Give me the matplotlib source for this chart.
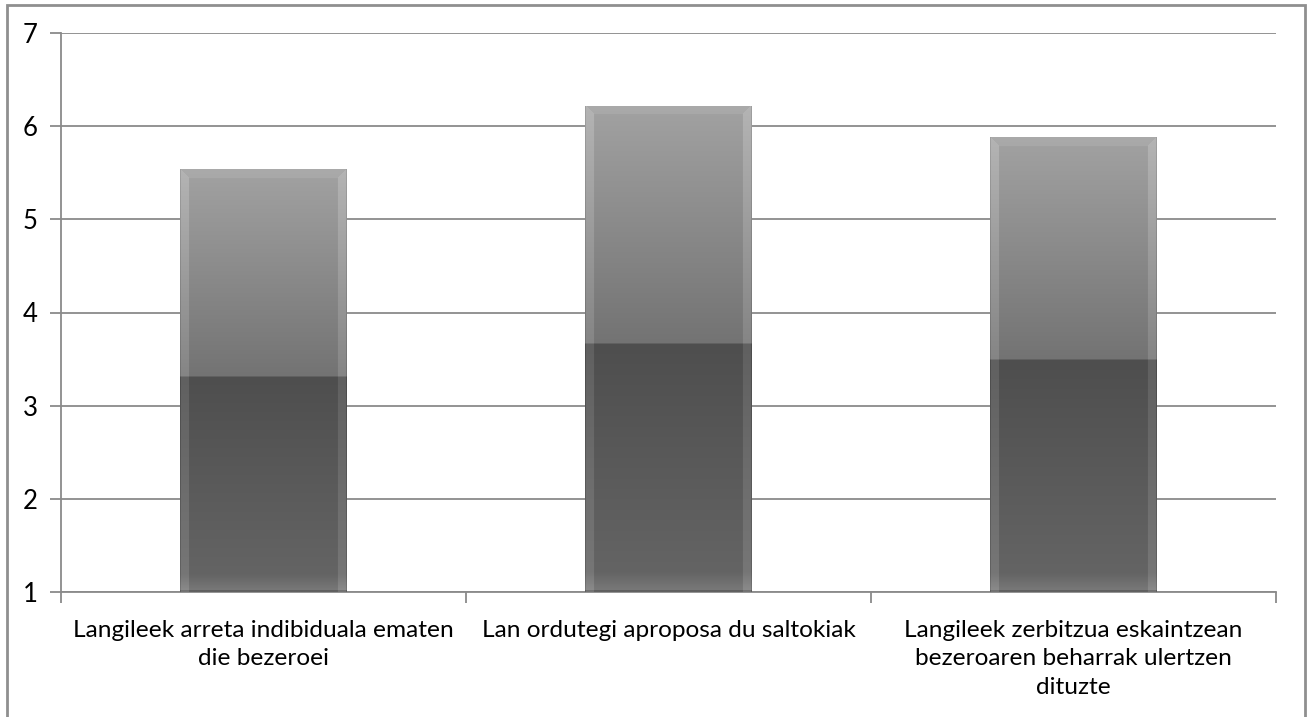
import numpy as np
import matplotlib.pyplot as plt
from matplotlib.patches import Rectangle

categories = [
    "Langileek arreta indibiduala ematen\ndie bezeroei",
    "Lan ordutegi aproposa du saltokiak",
    "Langileek zerbitzua eskaintzean\nbezeroaren beharrak ulertzen\ndituzte",
]
scores = [5.54, 6.22, 5.88]
y_ticks = [1, 2, 3, 4, 5, 6, 7]

W, H = 1313, 717
plt.rcParams["font.family"] = ["Lato", "DejaVu Sans"]

fig = plt.figure(figsize=(W / 100, H / 100), dpi=100)
fig.patch.set_facecolor("white")

# outer chart frame (bottom edge runs off the canvas)
frame = Rectangle((7 / W, -0.05), (1305 - 7) / W, (717 - 5) / H + 0.05,
                  transform=fig.transFigure, fill=False,
                  edgecolor="#8f8f8f", linewidth=2.0)
fig.patches.append(frame)

ax_l, ax_r, ax_t, ax_b = 61, 1276, 33, 592
ax = fig.add_axes([ax_l / W, (H - ax_b) / H, (ax_r - ax_l) / W, (ax_b - ax_t) / H])

grid_c = "#8a8a8a"
ax.set_ylim(1, 7)
ax.set_xlim(-0.5, len(categories) - 0.5)
ax.set_yticks(y_ticks)
ax.yaxis.grid(True, color=grid_c, linewidth=1.3)
ax.set_axisbelow(True)
for side in ("top", "right"):
    ax.spines[side].set_visible(False)
for side in ("left", "bottom"):
    ax.spines[side].set_color(grid_c)
    ax.spines[side].set_linewidth(1.3)
ax.tick_params(axis="y", length=8, width=1.3, color=grid_c, labelsize=18.5, pad=9)
ax.set_xticks(np.arange(len(categories)))
ax.set_xticklabels(categories, fontsize=17.6, linespacing=1.45)
ax.tick_params(axis="x", length=0, pad=20)
ax.set_xticks(np.arange(len(categories) + 1) - 0.5, minor=True)
ax.tick_params(axis="x", which="minor", length=8, width=1.3, color=grid_c)

bar_w = 0.41
bars = ax.bar(range(len(categories)), [s - 1 for s in scores], bottom=1,
              width=bar_w, color="none", edgecolor="none", zorder=2)

px_per_x = (ax_r - ax_l) / 3.0
px_per_y = (ax_b - ax_t) / 6.0


def bar_image(value):
    # vertical glass gradient plus bevelled side and top edges
    wpx = int(bar_w * px_per_x)
    hpx = int((value - 1) * px_per_y)
    t = np.linspace(1, 0, hpx)[:, None]  # 1 at top row
    split = 0.51
    lower = np.interp(t, [0, 0.04, split], [122, 100, 78])
    upper = np.interp(t, [split, 1.0], [115, 162])
    base = np.where(t < split, lower, upper) * np.ones((1, wpx))
    xs = np.arange(wpx)[None, :]
    ys = np.arange(hpx)[:, None]
    side = np.minimum(xs, wpx - 1 - xs) * np.ones((hpx, 1))
    top = ys * np.ones((1, wpx))
    bev = 9
    img = base.copy()
    side_zone = (side < bev) & (side <= top)
    img[side_zone] += 18
    top_zone = (top < bev) & (top < side)
    img[top_zone] += 8
    img[:, :1] -= 20
    img[:, -1:] -= 20
    img[-2:, :] -= 25
    img = np.clip(img, 0, 255) / 255.0
    return np.dstack([img, img, img])


for rect, val in zip(bars, scores):
    x0 = rect.get_x()
    im = ax.imshow(bar_image(val), extent=(x0, x0 + bar_w, 1, val),
                   aspect="auto", interpolation="bilinear", zorder=3)
    im.set_clip_path(rect)

ax.set_xlim(-0.5, len(categories) - 0.5)
ax.set_ylim(1, 7)

fig.savefig("out.png", dpi=100)
